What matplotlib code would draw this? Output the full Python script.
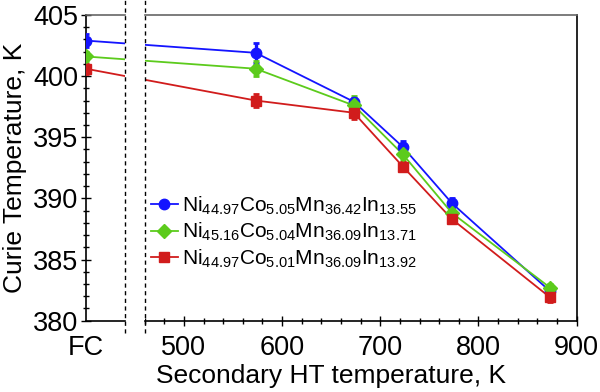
import numpy as np
import matplotlib
matplotlib.use('Agg')
from matplotlib import pyplot as plt
from matplotlib.ticker import FixedLocator
import matplotlib.transforms as mtransforms

plt.rcParams['font.family'] = ['Liberation Sans', 'DejaVu Sans']
plt.rcParams['mathtext.fontset'] = 'custom'
plt.rcParams['mathtext.rm'] = 'Liberation Sans'
plt.rcParams['mathtext.it'] = 'Liberation Sans'

# FC sample is put at x=400 on the broken axis
ht_temp = [400, 573, 673, 723, 773, 873]

blue_tc = [402.9, 401.9, 397.9, 394.2, 389.6, 382.4]
blue_err = [0.5, 0.8, 0.3, 0.5, 0.4, 0.3]
green_tc = [401.6, 400.6, 397.6, 393.6, 388.8, 382.7]
green_err = [0.4, 0.6, 0.8, 0.5, 0.3, 0.3]
red_tc = [400.6, 398.0, 397.0, 392.6, 388.3, 381.9]
red_err = [0.4, 0.5, 0.5, 0.4, 0.3, 0.4]

labels = [r'Ni$_{44.97}$Co$_{5.05}$Mn$_{36.42}$In$_{13.55}$',
          r'Ni$_{45.16}$Co$_{5.04}$Mn$_{36.09}$In$_{13.71}$',
          r'Ni$_{44.97}$Co$_{5.01}$Mn$_{36.09}$In$_{13.92}$']
colors = ['#1414ff', '#5ccb1c', '#d11c1c']
markers = ['o', 'D', 's']
msizes = [7.5, 7.5, 7.5]

xtick_pos = [400, 500, 600, 700, 800, 900]
xtick_lab = ['FC', '500', '600', '700', '800', '900']

fig = plt.figure(figsize=(6, 3.92), dpi=100)
ax = fig.add_axes([0.143, 0.182, 0.818, 0.780])

series = [(blue_tc, blue_err), (green_tc, green_err), (red_tc, red_err)]
handles = []
for (y, e), c, m, ms, lab in zip(series, colors, markers, msizes, labels):
    ax.plot(ht_temp, y, color=c, lw=1.3, zorder=2)
    ax.errorbar(ht_temp, y, yerr=e, fmt='none', ecolor=c, elinewidth=2.4,
                capsize=2.5, capthick=2, zorder=3)
    ax.plot(ht_temp, y, ls='none', marker=m, ms=ms, color=c, zorder=4)
    h, = ax.plot([], [], color=c, lw=1.3, marker=m, ms=ms, label=lab)
    handles.append(h)

# axis break
ax.axvspan(440, 460, color='white', zorder=2.6, lw=0)
trans = mtransforms.blended_transform_factory(ax.transData, ax.transAxes)
for xb in [440, 460]:
    ax.plot([xb, xb], [-0.04, 1.05], transform=trans, color='black', lw=1,
            ls=(0, (3, 2.5)), clip_on=False, zorder=5)
for x0, x1 in [(400, 440), (460, 900)]:
    ax.plot([x0, x1], [0, 0], transform=trans, color='black', lw=1.2, clip_on=False, zorder=5)
    ax.plot([x0, x1], [1, 1], transform=trans, color='#666666', lw=1.2, clip_on=False, zorder=5)

ax.spines['top'].set_visible(False)
ax.spines['bottom'].set_visible(False)
ax.spines['left'].set_linewidth(1.2)
ax.spines['right'].set_linewidth(1.2)

ax.set_xlim(400, 900)
ax.set_ylim(380, 405)
ax.set_xticks(xtick_pos, xtick_lab)
minor_x = [v for v in range(460, 900, 20) if v % 100 != 0]
ax.xaxis.set_minor_locator(FixedLocator(minor_x))
ax.set_yticks([380, 385, 390, 395, 400, 405])
ax.yaxis.set_minor_locator(FixedLocator(list(range(380, 406))))
ax.tick_params(axis='both', which='major', direction='inout', length=7, width=1,
               labelsize=19.5)
ax.tick_params(axis='y', which='major', pad=2)
ax.tick_params(axis='x', which='major', pad=7)
ax.tick_params(axis='both', which='minor', direction='inout', length=4, width=1)
ax.tick_params(axis='y', right=False)
ax.xaxis.get_major_ticks()[0].tick1line.set_visible(False)

ax.set_xlabel('Secondary HT temperature, K', fontsize=19, labelpad=2)
ax.set_ylabel('Curie Temperature, K', fontsize=19, labelpad=4)

ax.legend(handles=handles, loc='upper left', bbox_to_anchor=(0.115, 0.44),
          frameon=False, fontsize=15, handlelength=1.3, handletextpad=0.2,
          labelspacing=0.2, borderaxespad=0)

plt.savefig('out.png', dpi=100)
